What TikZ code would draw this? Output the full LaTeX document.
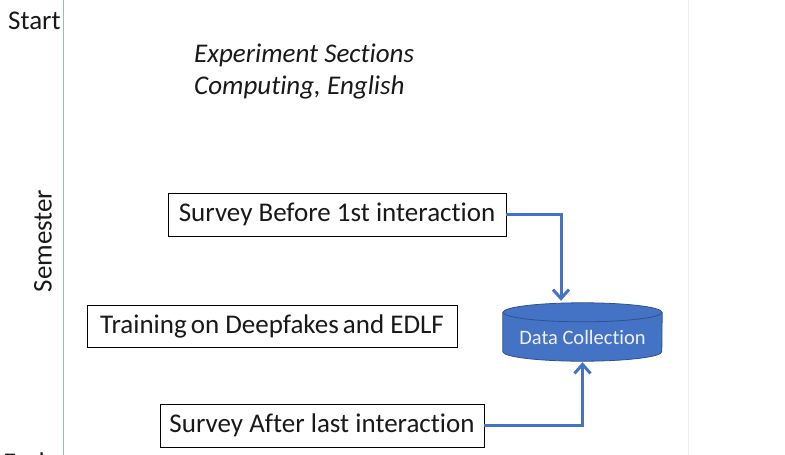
\documentclass[tikz,border=0pt]{standalone}
\usepackage{fontspec}
\setmainfont{Carlito}[Ligatures={NoCommon}]
\usetikzlibrary{arrows.meta,calc}
\definecolor{officeblue}{HTML}{4472C4}
\definecolor{cylborder}{HTML}{2F528F}
\definecolor{axisblue}{HTML}{9FB4DA}
\definecolor{dctext}{HTML}{EEF2F8}
\begin{document}
\begin{tikzpicture}[x=1pt,y=-1pt,
  label text/.style={font=\fontsize{27}{32}\selectfont, text=black!90, inner sep=0pt},
  surveybox/.style={draw=black, line width=0.9pt, fill=white,
    font=\fontsize{27}{32}\selectfont, text=black!90, inner sep=0pt},
  flow/.style={draw=officeblue, line width=3pt,
    -{Straight Barb[length=9pt,width=16pt,line width=3pt]}},
]
\useasboundingbox (0,0) rectangle (785,455);
\clip (0,0) rectangle (785,455);

% time axis
\draw[axisblue, line width=1.4pt] (63.5,0) -- (63.5,455);
\draw[black!6, line width=0.8pt] (688,0) -- (688,455);

\node[label text, anchor=base west] (start) at (8,30) {Start};
\node[label text, anchor=base west] (end) at (3,471) {End};
\node[label text, rotate=90] (sem) at (43,241) {Semester};

% experiment sections
\node[label text, align=left, anchor=north west, font=\fontsize{27}{32}\selectfont\itshape]
  (sections) at (194,44) {Experiment Sections\\Computing, English};

% activities
\node[surveybox, minimum width=338pt, minimum height=43pt] (before) at (337,214.5)
  {Survey Before 1st interaction};
\node[surveybox, minimum width=370pt, minimum height=42pt] (training) at (272,326)
  {Training\hspace{-2pt} on Deepfakes\hspace{-2pt} and EDLF};
\node[surveybox, minimum width=324pt, minimum height=43pt] (after) at (322,425.5)
  {Survey After last interaction};

% data store
\node[minimum width=159pt, minimum height=58pt, inner sep=0pt] (dc) at (582.5,332) {};
\fill[officeblue] ($(dc.north west)+(0,9.5)$) -- ($(dc.south west)+(0,-9.5)$)
  arc[start angle=180, end angle=0, x radius=79.5, y radius=9.5]
  -- ($(dc.north east)+(0,9.5)$) -- cycle;
\draw[cylborder, line width=0.8pt] ($(dc.north west)+(0,9.5)$) -- ($(dc.south west)+(0,-9.5)$)
  arc[start angle=180, end angle=0, x radius=79.5, y radius=9.5]
  -- ($(dc.north east)+(0,9.5)$);
\filldraw[fill=officeblue, draw=cylborder, line width=0.8pt]
  ($(dc.north)+(0,9.5)$) ellipse[x radius=79.5, y radius=9.5];
\node[inner sep=0pt, font=\fontsize{20.5}{24}\selectfont, text=dctext] (dclabel)
  at ($(dc.center)+(0,5.5)$) {Data Collection};

% connectors
\coordinate (inA) at ($(dc.north)+(-21.5,0)$);
\draw[flow, shorten >=2pt] (before.east) -| (inA);
\draw[flow, shorten >=1pt] (after.east) -| (dc.south);
\end{tikzpicture}
\end{document}
